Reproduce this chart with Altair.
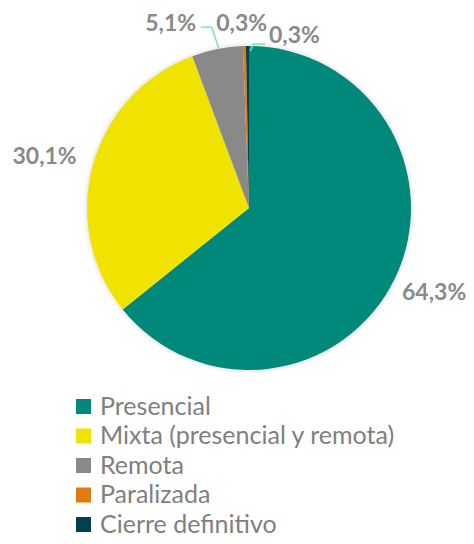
import altair as alt
import pandas as pd

categorias = ["Presencial", "Mixta (presencial y remota)", "Remota", "Paralizada", "Cierre definitivo"]
porcentajes = [64.3, 30.1, 5.1, 0.3, 0.3]
etiquetas = ["64,3%", "30,1%", "5,1%", "0,3%", "0,3%"]
colores = ["#00897B", "#F0E300", "#898989", "#E07B10", "#00404F"]

df = pd.DataFrame({
    "categoria": categorias,
    "pct": porcentajes,
    "etiqueta": etiquetas,
    "orden": list(range(len(categorias))),
})

W, H = 458, 528
CX, CY, R = 241, 200, 162
FONT = "Lato"
LABEL_COLOR = "#8A8A8A"
LEADER_COLOR = "#7FE3A9"

base = alt.Chart(df)
theta = alt.Theta("pct:Q", stack=True)
order = alt.Order("orden:Q", sort="ascending")
center = dict(x=alt.value(CX), y=alt.value(CY))

color = alt.Color(
    "categoria:N",
    scale=alt.Scale(domain=categorias, range=colores),
    sort=categorias,
    title=None,
    legend=alt.Legend(
        orient="none", legendX=63, legendY=386, direction="vertical",
        symbolType="square", symbolSize=225, symbolStrokeWidth=0,
        labelFont=FONT, labelFontSize=25, labelColor="#808080",
        labelLimit=450, rowPadding=3.5, padding=0, labelOffset=4,
    ),
)

shadow1 = base.mark_arc(radius=R + 4, color="#000000", opacity=0.025).encode(theta=theta, order=order, **center)
shadow2 = base.mark_arc(radius=R + 2, color="#000000", opacity=0.04).encode(theta=theta, order=order, **center)

pie = base.mark_arc(radius=R).encode(theta=theta, color=color, order=order, **center)


def label(cat, r, dx=0, dy=0):
    return base.mark_text(
        radius=r, dx=dx, dy=dy, font=FONT, fontSize=23, fontWeight="bold",
        color=LABEL_COLOR, align="center", baseline="middle",
    ).encode(
        theta=theta, order=order,
        text=alt.condition(alt.datum.categoria == cat, "etiqueta:N", alt.value("")),
        **center,
    )


labels = [
    label("Presencial", 212, -6, -7),
    label("Mixta (presencial y remota)", 212, 0, 5),
    label("Remota", 190, -41, 2),
    label("Paralizada", 190, -2, 6),
    label("Cierre definitivo", 172, 47, 0),
]


def leader(cat, r, dx, dy, pts):
    # pts: offsets (relative to label centre) of the leader vertices
    t = base.transform_joinaggregate(total="sum(pct)").transform_window(
        cum="sum(pct)", sort=[alt.SortField("orden")]
    ).transform_calculate(
        ang="(datum.cum - datum.pct/2) / datum.total * 2 * PI",
    ).transform_calculate(
        lx=f"{CX} + {r} * sin(datum.ang) + {dx}",
        ly=f"{CY} - {r} * cos(datum.ang) + {dy}",
    ).transform_filter(alt.datum.categoria == cat)
    segs = []
    for (ax, ay), (bx, by) in zip(pts[:-1], pts[1:]):
        segs.append(
            t.transform_calculate(
                x1=f"datum.lx + {ax}", y1=f"datum.ly + {ay}",
                x2=f"datum.lx + {bx}", y2=f"datum.ly + {by}",
            ).mark_rule(color=LEADER_COLOR, strokeWidth=1.5).encode(
                x=alt.X("x1:Q", scale=None), x2="x2:Q",
                y=alt.Y("y1:Q", scale=None), y2="y2:Q",
            )
        )
    return segs


leaders = leader("Paralizada", 190, -2, 6, [(-41, 3), (-30, 3), (-23, 24)]) + \
    leader("Cierre definitivo", 172, 47, 0, [(-29, 8), (-41, 8), (-44, 15)])

chart = alt.layer(shadow1, shadow2, pie, *leaders, *labels).properties(
    width=W, height=H, padding=0, autosize="none",
).configure_view(stroke=None)

chart.save("out.html", embed_options={"renderer": "svg", "actions": False})
